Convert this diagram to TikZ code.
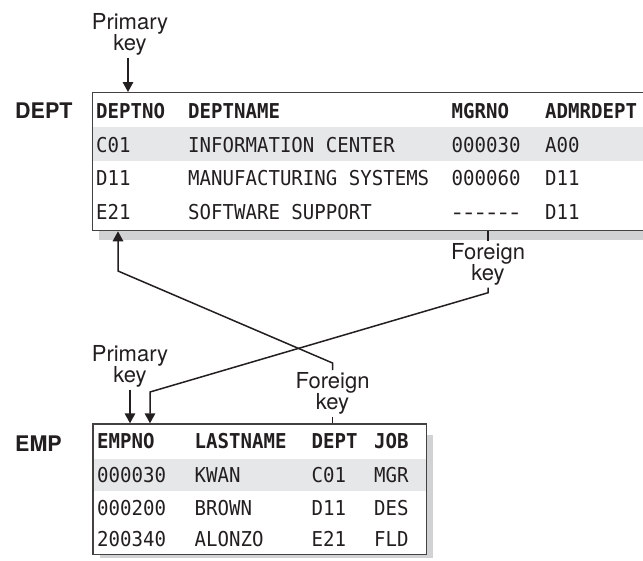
\documentclass[tikz,border=0pt]{standalone}
\usepackage{fontspec}
\usepackage{graphicx}
\usetikzlibrary{arrows.meta}
\newfontfamily\labfont{TeX Gyre Heros}
\newfontfamily\monofont[FakeStretch=0.93]{DejaVu Sans Mono}
\newcommand\celldash{\makebox[0.56em]{\scalebox{1.3}[1]{-}}}
\definecolor{ink}{HTML}{231F20}
\definecolor{shadowgray}{HTML}{D1D2D4}
\definecolor{rowgray}{HTML}{E6E7E8}
\tikzset{
  keylabel/.style={font=\labfont\fontsize{22}{21.5}\selectfont, text=ink, align=center, inner sep=2pt, anchor=north},
  tname/.style={font=\labfont\bfseries\fontsize{21.5}{24}\selectfont, text=ink, inner sep=0pt, anchor=base west},
  cell/.style={font=\monofont\fontsize{20.5}{22}\selectfont, text=ink, inner sep=0pt, anchor=base west},
  hcell/.style={cell, font=\monofont\bfseries\fontsize{20.5}{22}\selectfont},
  tablebox/.style={draw=ink!85, line width=1.3pt, inner sep=0pt, anchor=north west},
  conn/.style={draw=ink, line width=1.5pt},
  arr/.style={conn, -{Triangle[length=10pt,width=10.5pt]}},
}
\begin{document}
\begin{tikzpicture}[x=1pt,y=-1pt]
\useasboundingbox (0,0) rectangle (643,560);
\fill[white] (0,0) rectangle (643,560);

% ---------- DEPT table ----------
\fill[shadowgray] (99,100) rectangle (680,239.5);
\fill[white] (92,92) rectangle (680,230);
\fill[rowgray] (92,126.7) rectangle (680,160.7);
\node[tablebox, minimum width=588pt, minimum height=138pt] (dept) at (92,92) {};

\node[tname] (deptlbl) at (15,118.3) {DEPT};

\node[hcell] (dh1) at (96,118.3) {DEPTNO};
\node[hcell] (dh2) at (188,118.3) {DEPTNAME};
\node[hcell] (dh3) at (451.5,118.3) {MGRNO};
\node[hcell] (dh4) at (545,118.3) {ADMRDEPT};

\node[cell] (d11) at (96,152.3) {C01};
\node[cell] (d12) at (188,152.3) {INFORMATION CENTER};
\node[cell] (d13) at (451.5,152.3) {000030};
\node[cell] (d14) at (545,152.3) {A00};

\node[cell] (d21) at (96,185.7) {D11};
\node[cell] (d22) at (188,185.7) {MANUFACTURING SYSTEMS};
\node[cell] (d23) at (451.5,185.7) {000060};
\node[cell] (d24) at (545,185.7) {D11};

\node[cell] (d31) at (96,219.3) {E21};
\node[cell] (d32) at (188,219.3) {SOFTWARE SUPPORT};
\node[cell] (d33) at (451.5,219.3) {\celldash\celldash\celldash\celldash\celldash\celldash};
\node[cell] (d34) at (545,219.3) {D11};

% ---------- EMP table ----------
\fill[shadowgray] (100,435) rectangle (433,558);
\fill[white] (92.3,423.3) rectangle (425.5,554);
\fill[rowgray] (92.3,459) rectangle (425.5,491);
\node[tablebox, minimum width=333.2pt, minimum height=130.7pt] (emp) at (92.3,423.3) {};

\node[tname] (emplbl) at (15,451.5) {EMP};

\node[hcell] (eh1) at (97,448.3) {EMPNO};
\node[hcell] (eh2) at (194.5,448.3) {LASTNAME};
\node[hcell] (eh3) at (311.5,448.3) {DEPT};
\node[hcell] (eh4) at (374,448.3) {JOB};

\node[cell] (e11) at (97,482.3) {000030};
\node[cell] (e12) at (194.5,482.3) {KWAN};
\node[cell] (e13) at (311.5,482.3) {C01};
\node[cell] (e14) at (374,482.3) {MGR};

\node[cell] (e21) at (97,515.8) {000200};
\node[cell] (e22) at (194.5,515.8) {BROWN};
\node[cell] (e23) at (311.5,515.8) {D11};
\node[cell] (e24) at (374,515.8) {DES};

\node[cell] (e31) at (97,546.5) {200340};
\node[cell] (e32) at (194.5,546.5) {ALONZO};
\node[cell] (e33) at (311.5,546.5) {E21};
\node[cell] (e34) at (374,546.5) {FLD};

% ---------- key labels ----------
\node[keylabel] (pk1) at (130,11) {Primary\\key};
\node[keylabel] (fk1) at (488,241) {Foreign\\key};
\node[keylabel] (pk2) at (130,343) {Primary\\key};
\node[keylabel] (fk2) at (332.5,370) {Foreign\\key};

\coordinate (c1) at (118,271);
\coordinate (b1) at (150,392);

% ---------- connectors ----------
\draw[arr] ([xshift=-2pt]pk1.south) -- ([xshift=-2pt]pk1.south |- dept.north);
\draw[conn] (fk1.north) -- (fk1.north |- dept.south);
\draw[arr] (fk1.south) -- ++(0,5) -- (b1) -- (b1 |- emp.north);
\draw[arr] (pk2.south) -- (pk2.south |- emp.north);
\draw[conn] (fk2.south) -- (fk2.south |- emp.north);
\draw[arr] (fk2.north) -- ++(0,-7) -- (c1) -- (c1 |- dept.south);
\end{tikzpicture}
\end{document}
